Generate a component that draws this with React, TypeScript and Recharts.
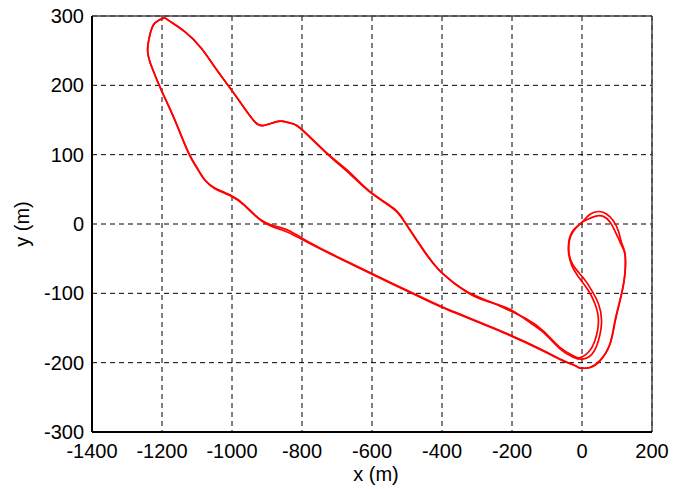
import React from 'react';
import {
  LineChart,
  Line,
  XAxis,
  YAxis,
  CartesianGrid,
  ReferenceLine,
  Label
} from 'recharts';

const X_TICKS = [-1400, -1200, -1000, -800, -600, -400, -200, 0, 200];
const Y_TICKS = [-300, -200, -100, 0, 100, 200, 300];

// first lap, positions in metres from the start point
const LAP1_X = [
  -6, -25, -53, -120, -205, -320, -406, -482, -606, -663, -720, -801, -850, -911,
  -963, -1006, -1049, -1077, -1096, -1125, -1163, -1201, -1229, -1241, -1234, -1220,
  -1196, -1182, -1134, -1087, -1049, -1004, -963, -934, -911, -877, -853, -829, -801,
  -730, -663, -606, -539, -506, -449, -401, -330, -268, -206, -158, -111, -63, -25,
  -6, 18, 37, 47, 37, 18, -6, -29, -39, -29, -1, 23, 50, 71, 89, 104, 113, 123, 123,
  113, 94, 80, 51, 23, 4, -6
];
const LAP1_Y = [
  -208, -203, -198, -181, -161, -137, -119, -101, -71, -57, -43, -22, -10, 3,
  26, 41, 51, 63, 77, 103, 149, 192, 226, 250, 274, 290,
  297, 294, 277, 253, 226, 195, 166, 147, 142, 147, 148, 145, 136,
  102, 72, 46, 22, 2, -41, -70, -97, -111, -125, -137, -154, -178, -190,
  -193, -185, -168, -140, -115, -96, -79, -60, -36, -12, 2, 14, 18, 14, 5, -10, -27, -43, -70,
  -101, -140, -173, -197, -207, -208, -208
];

// second lap
const LAP2_X = [
  -6, -25, -53, -120, -205, -320, -406, -482, -606, -663, -720, -801, -850, -911,
  -963, -1006, -1049, -1077, -1096, -1125, -1163, -1201, -1229, -1241, -1234, -1220,
  -1196, -1182, -1134, -1087, -1049, -1004, -963, -934, -911, -877, -853, -829, -801,
  -730, -663, -606, -539, -506, -449, -401, -330, -268, -206, -158, -111, -63, -25,
  0, 28, 47, 56, 47, 28, 4, -27, -38, -28, -1, 9, 37, 61, 80, 94, 107, 118, 123, 123,
  113, 95, 80, 52, 23, 4, -6
];
const LAP2_Y = [
  -208, -203, -197, -180, -160, -136, -118, -100, -70, -56, -42, -20, -7, 4,
  27, 42, 52, 63, 78, 104, 150, 192, 226, 250, 274, 290,
  297, 294, 277, 253, 226, 195, 166, 147, 142, 147, 148, 145, 137,
  103, 74, 47, 23, 3, -40, -70, -98, -112, -123, -139, -156, -180, -192,
  -195, -188, -168, -140, -115, -96, -78, -58, -36, -13, 2, 5, 11, 11, 3, -10, -24, -36, -45, -70,
  -101, -140, -173, -197, -207, -208, -208
];

const toPoints = (xs: number[], ys: number[]) => xs.map((x, i) => ({ x, y: ys[i] }));

const lap1 = toPoints(LAP1_X, LAP1_Y);
const lap2 = toPoints(LAP2_X, LAP2_Y);

const FONT = '"Liberation Sans", Arial, Helvetica, sans-serif';
const tickStyle = { fill: '#000', fontSize: 20, fontFamily: FONT };

export default function App() {
  return (
    <div style={{ position: 'absolute', left: 0, top: 0, background: '#fff' }}>
      <LineChart width={686} height={489} margin={{ top: 16, right: 34, left: 0, bottom: 0 }}>
        <CartesianGrid stroke="#000" strokeDasharray="5 4" />
        <XAxis
          dataKey="x"
          type="number"
          domain={[-1400, 200]}
          ticks={X_TICKS}
          interval={0}
          height={57}
          tickLine={false}
          tickSize={6}
          tickMargin={6}
          axisLine={{ stroke: '#000', strokeWidth: 2 }}
          tick={tickStyle}
          allowDataOverflow
        >
          <Label
            content={({ viewBox }: any) => (
              <text
                x={viewBox.x + viewBox.width / 2 + 4}
                y={viewBox.y + viewBox.height - 8}
                textAnchor="middle"
                fill="#000"
                fontSize={20}
                fontFamily={FONT}
              >
                x (m)
              </text>
            )}
          />
        </XAxis>
        <YAxis
          dataKey="y"
          type="number"
          domain={[-300, 300]}
          ticks={Y_TICKS}
          interval={0}
          width={92}
          tickLine={false}
          axisLine={{ stroke: '#000', strokeWidth: 2 }}
          tick={tickStyle}
          allowDataOverflow
        >
          <Label
            content={({ viewBox }: any) => {
              const cx = 29;
              const cy = viewBox.y + viewBox.height / 2;
              return (
                <text
                  x={cx}
                  y={cy}
                  transform={`rotate(-90 ${cx} ${cy})`}
                  textAnchor="middle"
                  fill="#000"
                  fontSize={20}
                  fontFamily={FONT}
                >
                  y (m)
                </text>
              );
            }}
          />
        </YAxis>
        <ReferenceLine y={300} stroke="#444" strokeWidth={1.5} />
        <ReferenceLine x={200} stroke="#444" strokeWidth={1.5} />
        <Line
          data={lap1}
          dataKey="y"
          type="natural"
          stroke="#ff0000"
          strokeWidth={1.7}
          dot={false}
          activeDot={false}
          isAnimationActive={false}
        />
        <Line
          data={lap2}
          dataKey="y"
          type="natural"
          stroke="#ff0000"
          strokeWidth={1.7}
          dot={false}
          activeDot={false}
          isAnimationActive={false}
        />
      </LineChart>
    </div>
  );
}
